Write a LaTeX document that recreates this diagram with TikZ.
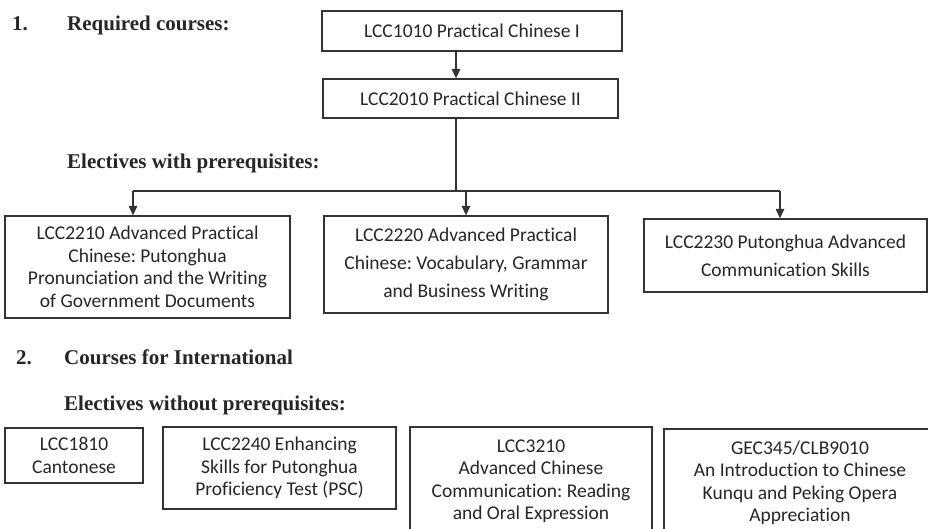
\documentclass[tikz,border=0pt]{standalone}
\usepackage{fontspec}
\setmainfont{Liberation Serif}
\newfontfamily\boxfont[Ligatures=NoCommon]{Carlito}
\usepackage{tikz}
\usetikzlibrary{arrows.meta,calc,positioning}
\definecolor{linecol}{HTML}{333333}
\definecolor{textcol}{HTML}{262626}
\tikzset{
  course/.style={draw=linecol,line width=1.3pt,align=center,inner sep=0pt,text=textcol,
    font=\boxfont\frenchspacing\fontsize{19.5}{22.5}\selectfont},
  loose/.style={font=\boxfont\frenchspacing\fontsize{19.5}{28}\selectfont},
  heading/.style={anchor=base west,inner sep=0pt,text=textcol,font=\bfseries\fontsize{21}{24}\selectfont},
  link/.style={draw=linecol,line width=1.3pt},
  arrow/.style={link,-{Triangle[width=8.5pt,length=9.5pt]}},
}

\begin{document}
\begin{tikzpicture}[x=1pt,y=-1pt]
  \useasboundingbox (0,0) rectangle (928,528);
  \clip (0,0) rectangle (928,528);
  \node[heading] (num1) at (12,30) {1.};
  \node[heading] (req) at (67,30) {Required courses:};
  \node[heading] (withpre) at (67,168) {Electives with prerequisites:};
  \node[heading] (num2) at (16,364) {2.};
  \node[heading] (intl) at (64,364) {Courses for International};
  \node[heading] (nopre) at (64,410) {Electives without prerequisites:};

  \node[course,minimum width=300,minimum height=40] (lcc1010) at (472,31) {LCC1010 Practical Chinese I};
  \node[course,minimum width=295,minimum height=39] (lcc2010) at (470.5,98.5) {LCC2010 Practical Chinese II};
  \node[course,minimum width=285,minimum height=102] (lcc2210) at (147.5,267)
    {LCC2210 Advanced Practical\\Chinese: Putonghua\\Pronunciation and the Writing\\of Government Documents};
  \node[course,loose,minimum width=284,minimum height=97] (lcc2220) at (466,264.5)
    {LCC2220 Advanced Practical\\Chinese: Vocabulary, Grammar\\and Business Writing};
  \node[course,loose,minimum width=283,minimum height=73] (lcc2230) at (785.5,255.5)
    {LCC2230 Putonghua Advanced\\Communication Skills};

  \node[course,minimum width=138,minimum height=55] (lcc1810) at (74,455.5) {LCC1810\\Cantonese};
  \node[course,minimum width=233,minimum height=82] (lcc2240) at (279.5,468)
    {LCC2240 Enhancing\\Skills for Putonghua\\Proficiency Test (PSC)};
  \node[course,minimum width=242,minimum height=108] (lcc3210) at (531,481)
    {LCC3210\\Advanced Chinese\\Communication: Reading\\and Oral Expression};
  \node[course,minimum width=272,minimum height=108] (gec345) at (800,483)
    {GEC345/CLB9010\\An Introduction to Chinese\\Kunqu and Peking Opera\\Appreciation};

  \coordinate (trunk) at (456,191);
  \coordinate (leftdrop) at (133,191);
  \coordinate (rightdrop) at (780,191);
  \draw[arrow] (lcc1010.south -| trunk) -- (lcc2010.north -| trunk);
  \draw[link] (lcc2010.south -| trunk) -- (trunk);
  \draw[link] (leftdrop) -- (rightdrop);
  \draw[arrow] (leftdrop) -- (lcc2210.north -| leftdrop);
  \draw[arrow] (trunk -| lcc2220.north) -- (lcc2220.north);
  \draw[arrow] (rightdrop) -- (lcc2230.north -| rightdrop);
\end{tikzpicture}
\end{document}
